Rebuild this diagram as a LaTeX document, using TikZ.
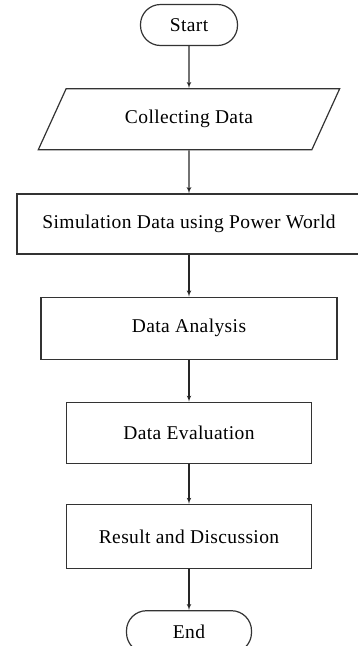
\documentclass[tikz,border=0pt]{standalone}
\usepackage{fontspec}
\setmainfont{Liberation Serif}[LetterSpace=2]
\usepackage{tikz}
\usetikzlibrary{arrows, positioning, shapes}
\tikzstyle{term} = [draw=black!80, line width=1.2pt, rectangle, rounded corners=20pt, minimum height=41pt]
\tikzstyle{io} = [draw=black!80, line width=1.2pt, trapezium, trapezium left angle=58, trapezium right angle=122, trapezium stretches=true, minimum width=302pt, minimum height=61pt]
\tikzstyle{block} = [draw=black!80, line width=1.2pt, rectangle, minimum height=61pt]
\tikzstyle{arrow} = [arrows=->, line width=1.1pt, black!85]

\begin{document}
\begin{tikzpicture}[x=1pt, y=-1pt, >=latex', node distance=42pt, font=\fontsize{19.5}{23}\selectfont]
    \useasboundingbox (0,0) rectangle (358,646);
    % Place the blocks
    \node [term, minimum width=97pt] at (189,25) (start) {Start};
    \node [io, below=of start] (collect) {Collecting Data};
    \node [block, below=43pt of collect, minimum width=344pt, minimum height=60pt] (sim) {Simulation Data using Power World};
    \node [block, below=of sim, minimum width=296pt, minimum height=62pt] (analysis) {Data Analysis};
    \node [block, below=of analysis, minimum width=245pt] (eval) {Data Evaluation};
    \node [block, below=40pt of eval, minimum width=245pt, minimum height=64pt] (result) {Result and Discussion};
    \node [term, below=41pt of result, minimum width=125pt, minimum height=42pt] (end) {End};

    % Connect the nodes
    \draw [arrow] (start) -- (collect);
    \draw [arrow] (collect) -- (sim);
    \draw [arrow] (sim) -- (analysis);
    \draw [arrow] (analysis) -- (eval);
    \draw [arrow] (eval) -- (result);
    \draw [arrow] (result) -- (end);
\end{tikzpicture}
\end{document}
